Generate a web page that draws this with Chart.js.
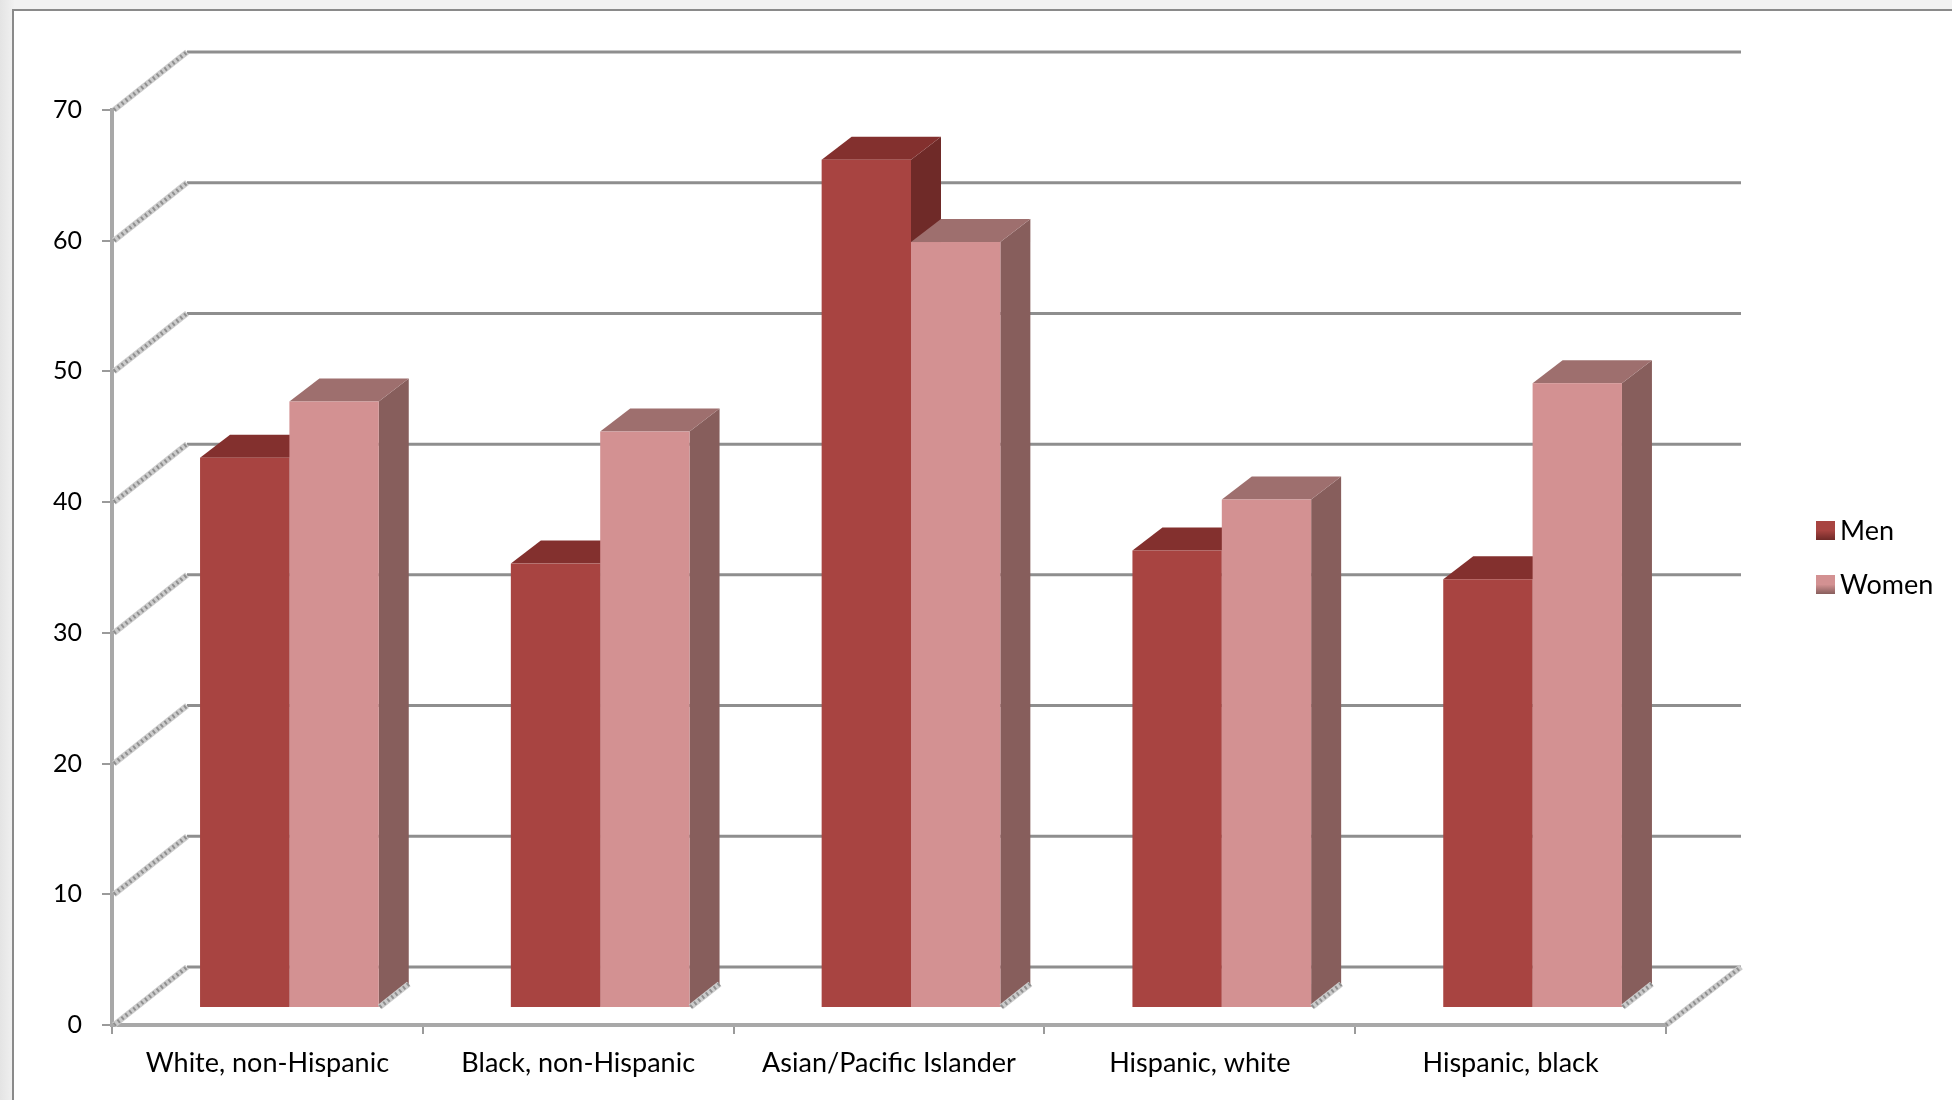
<!DOCTYPE html>
<html>
<head>
<meta charset="utf-8">
<script src="https://cdn.jsdelivr.net/npm/chart.js@4.4.1/dist/chart.umd.min.js"></script>
<style>
  html, body { margin: 0; padding: 0; background: #fff; }
  canvas { display: block; }
</style>
</head>
<body>
<canvas id="myChart" width="1952" height="1100"></canvas>
<script>
const categories = ['White, non-Hispanic', 'Black, non-Hispanic', 'Asian/Pacific Islander', 'Hispanic, white', 'Hispanic, black'];
const menValues = [42.1, 34.0, 64.9, 35.0, 32.8];
const womenValues = [46.4, 44.1, 58.6, 38.9, 47.8];
const seriesNames = ['Men', 'Women'];
const yMin = 0, yMax = 70, yStep = 10;

// face colours: front, top, side
const menColors = ['#a84441', '#83302e', '#6f2a28'];
const womenColors = ['#d39192', '#9e6f6e', '#875e5c'];

const FONT = 'Lato, "Open Sans", sans-serif';

// 3d offsets (walls, bar position in depth, bar depth)
const WALL_DX = 75, WALL_DY = -58;
const BAR_OX = 22, BAR_OY = -17;
const BAR_DX = 30, BAR_DY = -23;

function hatchLine(ctx, x1, y1, x2, y2) {
    ctx.save();
    ctx.lineCap = 'butt';
    ctx.strokeStyle = '#cccccc';
    ctx.lineWidth = 6;
    ctx.beginPath(); ctx.moveTo(x1, y1); ctx.lineTo(x2, y2); ctx.stroke();
    ctx.strokeStyle = '#8f8f8f';
    ctx.lineWidth = 4;
    ctx.setLineDash([2, 3]);
    ctx.beginPath(); ctx.moveTo(x1, y1); ctx.lineTo(x2, y2); ctx.stroke();
    ctx.restore();
}

const threeD = {
    id: 'threeD',
    beforeDraw(chart) {
        const ctx = chart.ctx;
        ctx.save();
        const g = ctx.createLinearGradient(0, 0, 14, 0);
        g.addColorStop(0, '#e4e4e4');
        g.addColorStop(1, '#f1f1f1');
        ctx.fillStyle = g;
        ctx.fillRect(0, 0, chart.width, chart.height);
        ctx.fillStyle = '#f2f2f2';
        ctx.fillRect(14, 0, chart.width, 10);
        ctx.fillStyle = '#ffffff';
        ctx.fillRect(13, 10, chart.width, chart.height);
        ctx.strokeStyle = '#8a8a8a';
        ctx.lineWidth = 2;
        ctx.beginPath();
        ctx.moveTo(13, chart.height + 5);
        ctx.lineTo(13, 10);
        ctx.lineTo(chart.width + 5, 10);
        ctx.stroke();
        ctx.restore();
    },
    beforeDatasetsDraw(chart) {
        const ctx = chart.ctx;
        const y = chart.scales.y;
        const a = chart.chartArea;
        ctx.save();
        // back wall gridlines
        ctx.strokeStyle = '#8e8e8e';
        ctx.lineWidth = 3;
        for (let v = yMin; v <= yMax; v += yStep) {
            const py = y.getPixelForValue(v) + WALL_DY;
            ctx.beginPath();
            ctx.moveTo(a.left + WALL_DX, py);
            ctx.lineTo(a.right + WALL_DX, py);
            ctx.stroke();
        }
        // side wall diagonals
        for (let v = yMin; v <= yMax; v += yStep) {
            const py = y.getPixelForValue(v);
            hatchLine(ctx, a.left + 2, py, a.left + WALL_DX, py + WALL_DY);
        }
        // floor right edge
        const p0 = y.getPixelForValue(0);
        hatchLine(ctx, a.right, p0, a.right + WALL_DX, p0 + WALL_DY);
        ctx.restore();
    },
    afterDatasetsDraw(chart) {
        const ctx = chart.ctx;
        const n = chart.data.labels.length;
        const colorSets = [menColors, womenColors];
        ctx.save();
        for (let i = 0; i < n; i++) {
            for (let d = 0; d < chart.data.datasets.length; d++) {
                const el = chart.getDatasetMeta(d).data[i];
                const c = colorSets[d];
                const x0 = el.x - el.width / 2 + BAR_OX;
                const x1 = el.x + el.width / 2 + BAR_OX;
                const yt = el.y + BAR_OY;
                const yb = el.base + BAR_OY;
                // side
                ctx.fillStyle = c[2];
                ctx.beginPath();
                ctx.moveTo(x1, yt);
                ctx.lineTo(x1 + BAR_DX, yt + BAR_DY);
                ctx.lineTo(x1 + BAR_DX, yb + BAR_DY);
                ctx.lineTo(x1, yb);
                ctx.closePath();
                ctx.fill();
                // top
                ctx.fillStyle = c[1];
                ctx.beginPath();
                ctx.moveTo(x0, yt);
                ctx.lineTo(x1, yt);
                ctx.lineTo(x1 + BAR_DX, yt + BAR_DY);
                ctx.lineTo(x0 + BAR_DX, yt + BAR_DY);
                ctx.closePath();
                ctx.fill();
                // front
                ctx.fillStyle = c[0];
                ctx.fillRect(x0, yt, x1 - x0, yb - yt);
            }
            // little shadow at the foot of the side face
            const last = chart.getDatasetMeta(1).data[i];
            const xr = last.x + last.width / 2 + BAR_OX;
            const yb = last.base + BAR_OY;
            hatchLine(ctx, xr + 1, yb, xr + BAR_DX, yb + BAR_DY);
        }
        ctx.restore();
    },
    afterDraw(chart) {
        const ctx = chart.ctx;
        const items = [[seriesNames[0], menColors, 521], [seriesNames[1], womenColors, 575]];
        ctx.save();
        ctx.font = '27px ' + FONT;
        ctx.textBaseline = 'middle';
        ctx.textAlign = 'left';
        items.forEach(([name, c, top]) => {
            const g = ctx.createLinearGradient(0, top, 0, top + 19);
            g.addColorStop(0, c[0]);
            g.addColorStop(0.5, c[0]);
            g.addColorStop(1, c[2]);
            ctx.fillStyle = g;
            ctx.fillRect(1816, top, 19, 19);
            ctx.fillStyle = '#000';
            ctx.fillText(name, 1840, top + 10);
        });
        ctx.restore();
    }
};

const config = {
    type: 'bar',
    data: {
        labels: categories,
        datasets: [
            { label: seriesNames[0], data: menValues, backgroundColor: 'rgba(0,0,0,0)', borderWidth: 0,
              categoryPercentage: 0.575, barPercentage: 1.0 },
            { label: seriesNames[1], data: womenValues, backgroundColor: 'rgba(0,0,0,0)', borderWidth: 0,
              categoryPercentage: 0.575, barPercentage: 1.0 }
        ]
    },
    options: {
        responsive: false,
        animation: false,
        layout: { padding: { top: 110, right: 286, bottom: 0, left: 0 } },
        plugins: {
            legend: { display: false },
            tooltip: { enabled: false }
        },
        scales: {
            x: {
                afterFit(scale) { scale.height = 75; },
                grid: { drawOnChartArea: false, offset: true, tickLength: 9, color: '#9a9a9a', lineWidth: 2 },
                border: { display: true, color: '#a8a8a8', width: 4 },
                ticks: { color: '#000', font: { family: FONT, size: 27 }, padding: 13, maxRotation: 0, autoSkip: false }
            },
            y: {
                min: yMin, max: yMax,
                afterFit(scale) { scale.width = 112; },
                grid: { drawOnChartArea: false, tickLength: 10, color: '#9a9a9a', lineWidth: 2 },
                border: { display: true, color: '#a8a8a8', width: 4 },
                ticks: { stepSize: yStep, color: '#000', font: { family: FONT, size: 25 }, padding: 20 }
            }
        }
    },
    plugins: [threeD]
};

const canvas = document.getElementById('myChart');
const myChart = new Chart(canvas, config);
</script>
</body>
</html>
